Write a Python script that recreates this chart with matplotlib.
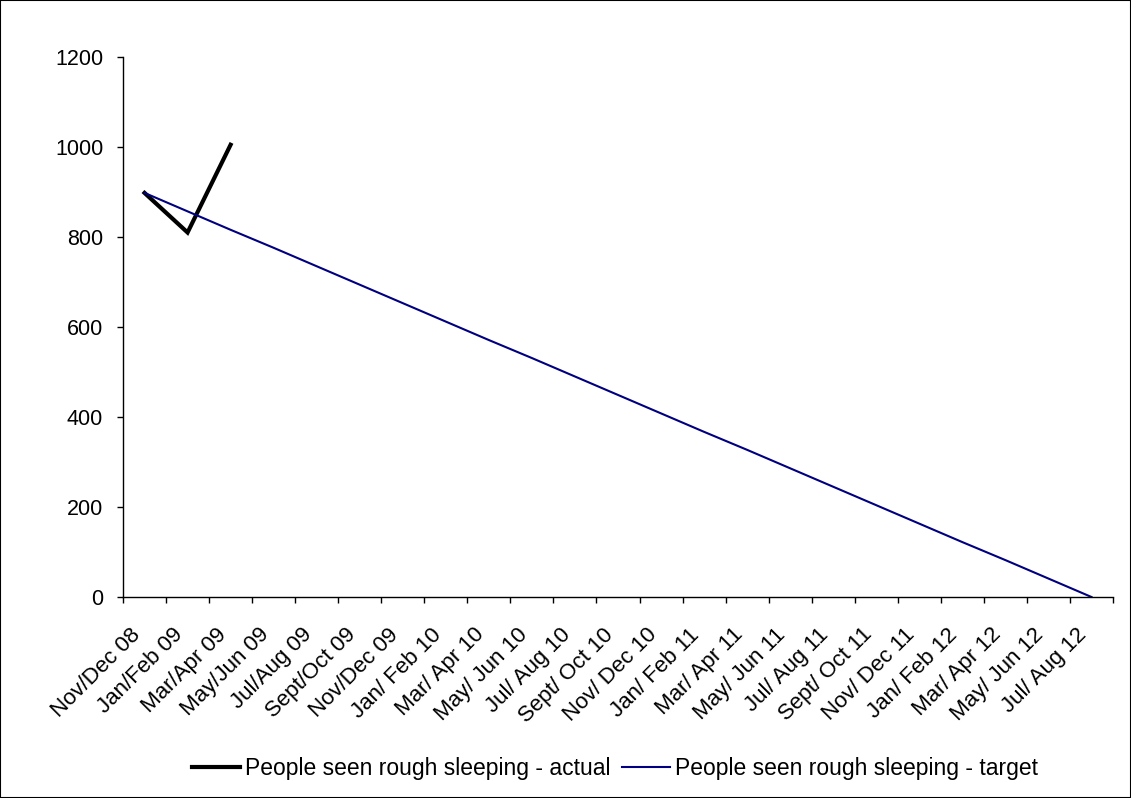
import numpy as np
import matplotlib.pyplot as plt
from matplotlib.patches import Rectangle
from matplotlib.transforms import ScaledTranslation

plt.rcParams['font.family'] = ['Liberation Sans', 'DejaVu Sans']

# bi-monthly periods
periods = ['Nov/Dec 08', 'Jan/Feb 09', 'Mar/Apr 09', 'May/Jun 09', 'Jul/Aug 09',
           'Sept/Oct 09', 'Nov/Dec 09', 'Jan/ Feb 10', 'Mar/ Apr 10', 'May/ Jun 10',
           'Jul/ Aug 10', 'Sept/ Oct 10', 'Nov/ Dec 10', 'Jan/ Feb 11', 'Mar/ Apr 11',
           'May/ Jun 11', 'Jul/ Aug 11', 'Sept/ Oct 11', 'Nov/ Dec 11', 'Jan/ Feb 12',
           'Mar/ Apr 12', 'May/ Jun 12', 'Jul/ Aug 12']
actual = [898, 810, 1005]
target = [898, 857, 816, 776, 735, 694, 653, 612, 571, 531, 490, 449,
          408, 367, 327, 286, 245, 204, 163, 122, 82, 41, 0]
yticks = [0, 200, 400, 600, 800, 1000, 1200]

fig = plt.figure(figsize=(11.31, 7.98), dpi=100)
ax = fig.add_axes([123/1131, 1-597/798, (1113-123)/1131, (597-57)/798])

x = np.arange(len(periods))
ax.plot(x[:len(actual)], actual, color='black', lw=3,
        label='People seen rough sleeping - actual', solid_joinstyle='miter')
ax.plot(x, target, color='#000080', lw=1.5, label='People seen rough sleeping - target')

ax.set_xlim(-0.5, len(periods) - 0.5)
ax.set_ylim(0, 1200)
ax.set_yticks(yticks)
ax.tick_params(axis='y', labelsize=15.5, direction='out', length=4.3, width=1, pad=10)

# ticks between categories, labels at centres
ax.set_xticks(np.arange(len(periods) + 1) - 0.5)
ax.set_xticklabels([])
ax.tick_params(axis='x', which='major', direction='out', length=4.3, width=1)
ax.set_xticks(x, minor=True)
ax.set_xticklabels(periods, minor=True, rotation=45, ha='right', va='top',
                   rotation_mode='anchor', fontsize=16)
ax.tick_params(axis='x', which='minor', length=0, pad=19.5)
shift = ScaledTranslation(-15/100, 0, fig.dpi_scale_trans)
for lbl in ax.get_xticklabels(minor=True):
    lbl.set_transform(lbl.get_transform() + shift)

for s in ['top', 'right']:
    ax.spines[s].set_visible(False)
for s in ['left', 'bottom']:
    ax.spines[s].set_linewidth(1)

fig.legend(loc='center', bbox_to_anchor=(615/1131, 1-769/798), ncol=2, frameon=False,
           fontsize=16.5, handlelength=2.1, handletextpad=0.22, columnspacing=0.48)

fig.patches.append(Rectangle((0, 0), 1, 1, transform=fig.transFigure, fill=False,
                             edgecolor='black', lw=1.5))

fig.savefig('out.png', dpi=100)
